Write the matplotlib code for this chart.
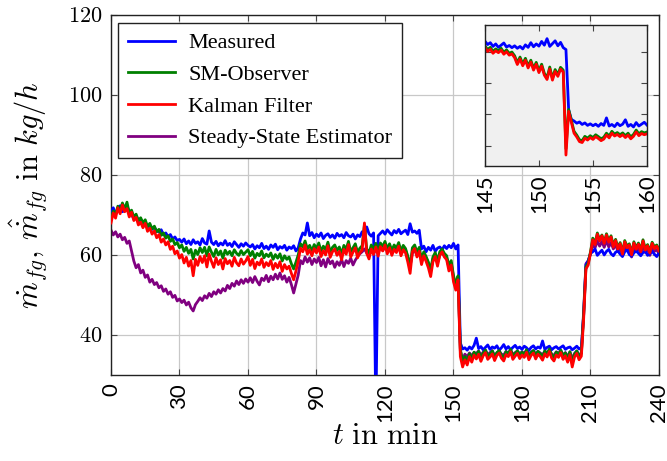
import numpy as np
import matplotlib
matplotlib.use("Agg")
import matplotlib.pyplot as plt

# ---------------- data (1-min resolution, t = 0..240 min) ----------------
measured = [
    70.5, 71.8, 70.2, 71.5, 72.3, 70.8, 71.2, 72.0, 71.0, 70.2,
    69.0, 69.8, 68.5, 68.9, 67.6, 68.2, 67.0, 67.5, 66.4, 66.9,
    66.0, 65.8, 66.3, 65.0, 65.5, 64.6, 65.1, 64.0, 64.5, 63.6,
    63.9, 63.2, 64.0, 62.8, 63.5, 62.6, 63.8, 62.9, 63.3, 62.5,
    64.1, 63.0, 62.7, 66.0, 63.2, 62.6, 63.4, 62.3, 63.0, 62.5,
    63.6, 62.4, 62.9, 62.1, 63.3, 62.6, 61.9, 62.8, 62.2, 63.0,
    62.4, 62.0, 62.6, 61.5, 62.3, 61.8, 62.9, 61.6, 62.2, 61.4,
    62.5, 61.9, 62.7, 61.3, 62.1, 61.7, 62.4, 61.2, 62.0, 61.6,
    62.3, 61.0, 61.8, 64.0, 65.5, 65.0, 68.0, 64.8, 65.6, 64.3,
    65.2, 64.6, 65.5, 64.1, 64.9, 65.3, 64.4, 65.0, 64.2, 65.4,
    64.7, 65.1, 64.3, 65.6, 64.8, 64.5, 65.2, 64.0, 65.0, 64.6,
    65.8, 64.9, 67.0, 65.3, 64.7, 65.5, 20.0, 64.8, 65.4, 66.0,
    65.2, 66.3, 65.6, 65.0, 66.1, 65.5, 66.4, 65.3, 65.8, 66.2,
    65.1, 67.8, 65.7, 66.0, 65.4, 66.2, 61.5, 62.2, 60.8, 61.9,
    61.2, 62.4, 60.9, 61.7, 62.0, 61.3, 62.3, 61.6, 62.4, 61.8,
    62.9, 61.5, 62.5, 38.0, 36.5, 36.8, 36.2, 37.0, 36.5, 37.4,
    39.2, 36.6, 37.1, 36.3, 36.9, 37.5, 36.4, 37.0, 36.7, 37.3,
    36.2, 36.8, 37.6, 36.5, 37.1, 36.3, 36.9, 37.4, 36.6, 37.0,
    36.4, 37.2, 36.8, 36.1, 36.9, 37.3, 36.5, 37.0, 36.7, 38.5,
    36.4, 36.9, 37.2, 36.3, 36.8, 37.1, 36.5, 36.9, 37.3, 36.4,
    36.8, 37.0, 36.3, 36.7, 37.2, 36.5, 36.9, 45.0, 57.5, 58.5,
    60.4, 60.8, 61.5, 59.9, 60.6, 61.2, 60.0, 60.9, 61.4, 60.3,
    59.8, 60.7, 61.0, 60.2, 59.6, 60.8, 61.3, 60.1, 59.7, 60.5,
    61.1, 60.4, 59.8, 60.6, 61.0, 59.9, 60.3, 60.9, 60.2, 59.6,
    60.5,
]

sm_observer = [
    69.0, 71.0, 70.0, 72.2, 71.0, 73.0, 71.5, 73.2, 70.5, 71.2,
    69.5, 70.2, 68.6, 69.3, 68.0, 68.8, 67.1, 67.9, 66.5, 67.2,
    65.8, 66.4, 64.9, 65.5, 64.2, 64.8, 63.4, 64.0, 62.6, 63.1,
    61.8, 62.5, 60.9, 61.9, 60.4, 61.4, 59.0, 61.2, 60.1, 61.8,
    60.6, 61.9, 59.8, 62.0, 60.7, 59.6, 61.4, 60.0, 61.0, 59.2,
    61.2, 60.2, 60.9, 59.8, 61.3, 60.4, 59.9, 61.1, 60.1, 60.7,
    61.3, 59.8, 60.9, 59.2, 60.4, 59.8, 61.0, 59.3, 60.2, 59.6,
    60.5, 58.9, 60.1, 59.2, 60.3, 58.5, 59.8, 58.9, 59.5, 57.8,
    56.5, 58.2, 60.0, 62.8, 62.0, 63.5, 61.5, 62.4, 61.0, 62.6,
    61.6, 63.0, 60.9, 62.2, 61.3, 63.2, 60.7, 61.9, 62.5, 61.1,
    62.0, 60.2, 62.4, 61.4, 63.4, 60.8, 61.8, 62.8, 60.6, 61.7,
    62.3, 67.5, 61.5, 60.4, 62.5, 61.3, 62.9, 60.9, 63.0, 62.1,
    63.4, 61.5, 62.8, 61.1, 62.5, 61.7, 63.1, 61.0, 62.4, 61.6,
    59.6, 57.0, 61.8, 62.5, 60.7, 61.9, 58.9, 60.8, 59.6, 58.2,
    56.2, 59.5, 60.6, 58.5, 60.8, 61.5, 60.4, 59.8, 57.3, 58.6,
    54.8, 52.6, 54.8, 36.5, 33.0, 34.6, 33.4, 35.3, 34.0, 35.7,
    34.8, 35.9, 34.2, 35.5, 36.2, 34.7, 35.2, 36.0, 34.4, 35.6,
    36.1, 34.9, 34.3, 35.8, 35.3, 36.4, 34.7, 35.4, 36.0, 34.9,
    35.7, 35.1, 36.3, 34.6, 35.6, 36.1, 34.8, 35.9, 35.3, 34.5,
    36.0, 35.2, 36.5, 35.0, 34.3, 35.7, 35.1, 36.2, 34.7, 35.5,
    34.0, 35.8, 33.0, 35.2, 36.0, 34.6, 35.4, 45.0, 57.0, 58.0,
    60.8, 64.2, 63.0, 65.5, 63.8, 65.0, 63.2, 65.3, 63.6, 64.8,
    62.4, 63.9, 61.9, 63.1, 60.6, 63.6, 62.2, 62.8, 60.4, 63.3,
    61.8, 63.0, 61.2, 63.8, 61.6, 62.6, 60.9, 63.2, 62.0, 62.5,
    61.4,
]

kalman = [
    68.0, 70.5, 69.2, 71.8, 70.3, 72.5, 70.8, 71.6, 69.5, 70.7,
    68.6, 69.4, 67.5, 68.2, 66.8, 67.9, 65.9, 66.7, 65.2, 66.0,
    64.3, 65.1, 63.2, 64.0, 62.5, 63.3, 61.4, 62.2, 60.3, 61.0,
    59.2, 60.1, 58.0, 59.4, 57.2, 58.6, 54.8, 58.9, 57.4, 59.6,
    58.1, 59.8, 57.0, 60.2, 58.4, 56.9, 59.3, 57.6, 58.8, 56.5,
    59.1, 57.8, 58.6, 57.2, 59.4, 58.0, 57.3, 59.0, 57.7, 58.5,
    59.6, 57.4, 58.9, 56.6, 58.2, 57.5, 59.0, 56.9, 58.1, 57.3,
    58.6, 56.4, 57.9, 56.8, 58.3, 55.9, 57.6, 56.5, 57.2, 55.4,
    53.8, 56.0, 58.5, 61.7, 60.8, 62.5, 60.2, 61.3, 59.8, 61.6,
    60.5, 62.0, 59.6, 61.1, 60.0, 62.3, 59.4, 60.8, 61.5, 59.9,
    60.9, 58.8, 61.4, 60.2, 62.6, 59.5, 60.7, 61.8, 59.3, 60.6,
    61.2, 68.0, 60.4, 59.0, 61.5, 60.1, 62.0, 59.7, 62.1, 61.0,
    62.5, 60.3, 61.8, 59.9, 61.4, 60.6, 62.2, 59.8, 61.3, 60.5,
    58.2, 55.4, 60.8, 61.6, 59.5, 60.9, 57.6, 59.8, 58.4, 56.8,
    54.6, 58.3, 59.6, 57.2, 59.9, 60.8, 59.5, 58.8, 56.0, 57.5,
    53.3, 51.2, 53.8, 34.6, 32.0, 33.8, 32.5, 34.6, 33.2, 35.0,
    34.0, 35.2, 33.4, 34.8, 35.6, 33.9, 34.5, 35.3, 33.6, 34.9,
    35.5, 34.2, 33.5, 35.1, 34.6, 35.8, 33.9, 34.7, 35.4, 34.1,
    35.0, 34.4, 35.7, 33.8, 34.9, 35.5, 34.0, 35.2, 34.6, 33.7,
    35.3, 34.5, 35.9, 34.2, 33.5, 35.0, 34.4, 35.6, 33.9, 34.8,
    33.2, 35.1, 32.0, 34.5, 35.4, 33.8, 34.7, 44.0, 56.5, 57.5,
    60.5, 63.8, 62.6, 65.2, 63.5, 64.8, 62.9, 65.0, 63.2, 64.5,
    62.0, 63.6, 61.5, 62.8, 60.2, 63.3, 61.8, 62.5, 60.0, 63.0,
    61.4, 62.7, 60.8, 63.5, 61.2, 62.3, 60.5, 62.9, 61.6, 62.2,
    61.0,
]

steady_state = [
    66.2, 65.0, 65.8, 64.5, 65.2, 63.8, 64.4, 62.9, 63.5, 61.0,
    58.5, 56.8, 57.6, 55.5, 56.2, 54.4, 55.0, 53.2, 53.9, 52.6,
    53.1, 51.8, 52.3, 50.9, 51.5, 50.2, 50.8, 49.4, 49.9, 48.5,
    49.0, 48.1, 48.7, 47.5, 48.2, 46.8, 46.0, 47.6, 48.4, 49.3,
    48.6, 49.8, 49.2, 50.4, 49.6, 50.8, 50.2, 51.3, 50.5, 51.6,
    51.0, 52.4, 51.6, 52.9, 52.2, 53.5, 52.6, 53.8, 52.9, 54.0,
    53.2, 54.3, 53.1, 54.6, 53.4, 52.5, 54.2, 53.6, 54.9, 53.3,
    54.7, 53.8, 55.2, 54.0, 55.5, 53.9, 54.8, 53.2, 54.4, 52.6,
    50.5, 52.8, 55.0, 58.6, 57.8, 59.5, 58.2, 59.3, 57.6, 59.0,
    58.1, 59.4, 57.3, 58.8, 57.0, 59.1, 57.8, 58.5, 56.9, 58.3,
    57.4, 58.9, 57.1, 58.6, 57.9, 59.2, 57.5, 58.7, 59.6, 60.3,
    60.8, 61.5, 60.5, 61.2, 60.7, 61.6, 60.9, 61.3, 61.8, 61.1,
    62.0, 61.2, 61.6, 60.8, 61.9, 61.0, 62.1, 60.7, 61.5, 61.2,
    59.5, 57.2, 60.5, 61.3, 60.0, 61.0, 58.5, 60.2, 59.3, 57.9,
    56.0, 59.0, 59.8, 58.0, 60.0, 60.6, 59.7, 59.2, 56.8, 58.0,
    54.5, 52.5, 54.0, 36.0, 34.0, 35.2, 34.6, 35.5, 34.8, 35.6,
    35.4, 36.0, 34.9, 35.7, 36.2, 35.1, 35.6, 36.1, 34.8, 35.5,
    36.0, 35.2, 35.0, 35.9, 35.4, 36.3, 35.1, 35.6, 36.0, 35.3,
    35.8, 35.4, 36.2, 35.0, 35.7, 36.1, 35.2, 35.9, 35.5, 35.0,
    36.0, 35.5, 36.3, 35.2, 34.9, 35.8, 35.4, 36.1, 35.0, 35.6,
    34.6, 35.8, 34.0, 35.4, 36.0, 35.0, 35.5, 46.0, 57.8, 58.6,
    60.2, 62.5, 61.8, 63.5, 62.2, 63.4, 61.9, 63.6, 62.0, 63.1,
    61.5, 62.6, 60.9, 62.0, 59.8, 62.4, 61.1, 61.7, 59.5, 62.0,
    60.8, 61.9, 60.2, 62.6, 60.6, 61.4, 59.9, 62.0, 60.9, 61.3,
    60.3,
]

# ---------------- inset data (0.25-min resolution, t = 145..160 min) ----------------
inset_measured = [
    63.5, 62.4, 63.0, 61.8, 62.6, 61.5, 62.2, 62.9, 61.6, 62.1,
    61.4, 62.0, 61.2, 61.8, 61.0, 62.3, 61.5, 63.0, 61.7, 62.6,
    61.9, 63.4, 62.2, 64.3, 61.8, 62.7, 63.6, 62.0, 63.1, 61.4,
    60.8, 41.5, 38.4, 37.9, 37.2, 37.6, 36.8, 37.3, 36.5, 37.0,
    36.4, 36.9, 36.2, 37.1, 36.5, 38.9, 36.3, 36.8, 36.1, 37.2,
    36.4, 36.9, 38.3, 36.2, 36.8, 36.0, 37.4, 36.3, 36.9, 37.5,
    36.6,
]
inset_sm_observer = [
    62.0, 60.8, 61.5, 60.2, 61.0, 60.4, 61.2, 59.9, 60.7, 59.6,
    60.0, 58.8, 56.6, 58.4, 56.2, 58.0, 55.5, 57.4, 54.8, 56.7,
    54.0, 56.1, 53.2, 51.8, 55.2, 51.6, 54.4, 52.8, 55.1, 54.2,
    29.0, 41.6, 38.1, 34.6, 33.4, 31.9, 31.6, 33.0, 32.4, 33.2,
    32.6, 33.5, 32.9, 32.2, 32.7, 34.0, 33.1, 34.6, 33.7, 34.2,
    33.5, 34.1, 33.2, 34.0, 32.8, 33.6, 35.0, 33.8, 34.5, 34.1,
    34.4,
]
inset_kalman = [
    61.5, 60.2, 60.9, 59.6, 60.4, 59.8, 60.6, 59.3, 60.1, 59.0,
    59.4, 58.2, 56.0, 57.8, 55.6, 57.4, 54.9, 56.8, 54.2, 56.1,
    53.4, 55.5, 52.6, 51.2, 54.6, 51.0, 53.8, 52.2, 54.5, 53.6,
    27.0, 41.0, 37.5, 34.0, 32.8, 31.3, 31.0, 32.4, 31.8, 32.6,
    32.0, 32.9, 32.3, 31.6, 32.1, 33.4, 32.5, 34.0, 33.1, 33.6,
    32.9, 33.5, 32.6, 33.4, 32.2, 33.0, 34.4, 33.2, 33.9, 33.5,
    33.8,
]

for arr in (measured, sm_observer, kalman, steady_state):
    assert len(arr) == 241, len(arr)
for arr in (inset_measured, inset_sm_observer, inset_kalman):
    assert len(arr) == 61, len(arr)

t_main = np.arange(241) * 1.0
t_inset = 145.0 + np.arange(61) * 0.25

labels = ["Measured", "SM-Observer", "Kalman Filter", "Steady-State Estimator"]
x_ticks = [0, 30, 60, 90, 120, 150, 180, 210, 240]
y_ticks = [40, 60, 80, 100, 120]
inset_x_ticks = [145, 150, 155, 160]
inset_y_ticks = [30, 40, 50, 60]

# ---------------- styling ----------------
plt.rcParams["font.family"] = ["Liberation Serif", "DejaVu Serif"]
plt.rcParams["mathtext.fontset"] = "cm"

C_BLUE = "#0000ff"
C_GREEN = "#008000"
C_RED = "#ff0000"
C_PURPLE = "#800080"
LW = 2.0
SANS = ["Lato", "DejaVu Sans"]

fig = plt.figure(figsize=(6.67, 4.61), dpi=100)
ax = fig.add_axes([0.1664, 0.1866, 0.8216, 0.781])

ax.plot(t_main, steady_state, color=C_PURPLE, lw=LW, zorder=2)
ax.plot(t_main, measured, color=C_BLUE, lw=LW, zorder=3)
ax.plot(t_main, sm_observer, color=C_GREEN, lw=LW, zorder=4)
ax.plot(t_main, kalman, color=C_RED, lw=LW, zorder=5)

ax.set_xlim(0, 240)
ax.set_ylim(30, 120)
ax.set_xticks(x_ticks)
ax.set_yticks(y_ticks)
ax.set_xticklabels([str(v) for v in x_ticks], rotation=90, family=SANS, fontsize=16)
ax.set_yticklabels([f"${v}$" for v in y_ticks], fontsize=16)
ax.tick_params(direction="in", length=4, width=0.8, pad=6,
               top=True, right=True, colors="#444444", labelcolor="black")
ax.grid(True, color="#c8c8c8", lw=0.9)
ax.set_axisbelow(True)
for s in ax.spines.values():
    s.set_linewidth(1.0)
    s.set_color("#222222")

ax.set_xlabel(r"$t\ \mathrm{in\ min}$", fontsize=22, labelpad=0)
ax.set_ylabel(r"$\dot{m}_{fg},\, \hat{\dot{m}}_{fg}\ \mathrm{in}\ kg/h$", fontsize=22, labelpad=13)

# legend
handles = [plt.Line2D([], [], color=c, lw=LW) for c in (C_BLUE, C_GREEN, C_RED, C_PURPLE)]
leg = ax.legend(handles, labels, loc="upper left", bbox_to_anchor=(0.0128, 0.978),
                borderaxespad=0, fontsize=16, frameon=True, fancybox=False,
                framealpha=1, edgecolor="#222222", handlelength=2.1,
                labelspacing=0.5, borderpad=0.45, handletextpad=0.6)
leg.get_frame().set_linewidth(1.0)
leg.set_zorder(10)

# inset
axi = fig.add_axes([0.727, 0.640, 0.243, 0.306])
axi.set_facecolor("#f0f0f0")
axi.plot(t_inset, inset_measured, color=C_BLUE, lw=LW)
axi.plot(t_inset, inset_sm_observer, color=C_GREEN, lw=LW)
axi.plot(t_inset, inset_kalman, color=C_RED, lw=LW)
axi.set_xlim(145, 160)
axi.set_ylim(23.5, 68.7)
axi.set_xticks(inset_x_ticks)
axi.set_yticks(inset_y_ticks)
axi.set_xticklabels([str(v) for v in inset_x_ticks], rotation=90, family=SANS, fontsize=16)
axi.set_yticklabels([])
axi.tick_params(direction="in", length=4, width=0.8, pad=6,
                top=True, right=True, colors="#444444", labelcolor="black")
for s in axi.spines.values():
    s.set_linewidth(1.0)
    s.set_color("#222222")

fig.savefig("out.png", dpi=100)
